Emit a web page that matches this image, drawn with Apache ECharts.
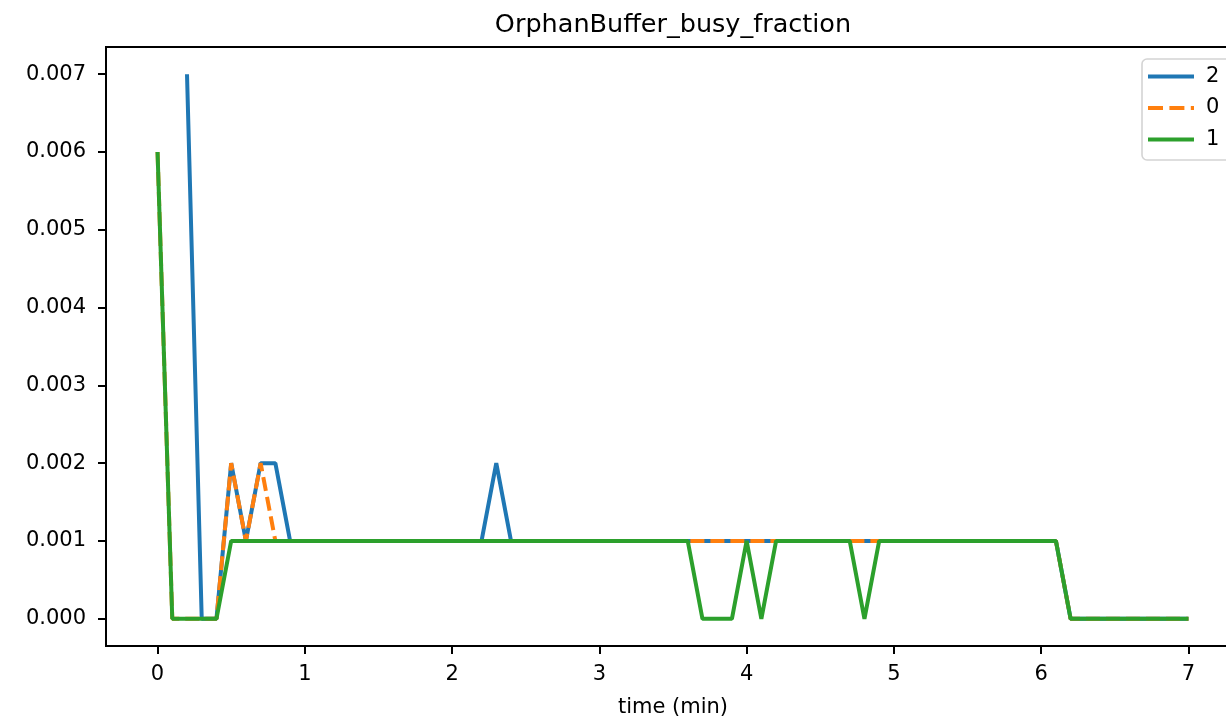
<!DOCTYPE html>
<html>
<head>
<meta charset="utf-8">
<script src="https://cdn.jsdelivr.net/npm/echarts@6/dist/echarts.min.js"></script>
<style>
html,body{margin:0;padding:0;background:#fff;}
#chart{width:1226px;height:719px;}
</style>
</head>
<body>
<div id="chart"></div>
<script>
var times = [
  0.0, 0.1, 0.2, 0.3, 0.4, 0.5, 0.6, 0.7, 0.8, 0.9,
  1.0, 1.1, 1.2, 1.3, 1.4, 1.5, 1.6, 1.7, 1.8, 1.9,
  2.0, 2.1, 2.2, 2.3, 2.4, 2.5, 2.6, 2.7, 2.8, 2.9,
  3.0, 3.1, 3.2, 3.3, 3.4, 3.5, 3.6, 3.7, 3.8, 3.9,
  4.0, 4.1, 4.2, 4.3, 4.4, 4.5, 4.6, 4.7, 4.8, 4.9,
  5.0, 5.1, 5.2, 5.3, 5.4, 5.5, 5.6, 5.7, 5.8, 5.9,
  6.0, 6.1, 6.2, 6.3, 6.4, 6.5, 6.6, 6.7, 6.8, 6.9,
  7.0
];
var series2 = [
  null, null, 0.007, 0, 0, 0.002, 0.001, 0.002, 0.002, 0.001,
  0.001, 0.001, 0.001, 0.001, 0.001, 0.001, 0.001, 0.001, 0.001, 0.001,
  0.001, 0.001, 0.001, 0.002, 0.001, 0.001, 0.001, 0.001, 0.001, 0.001,
  0.001, 0.001, 0.001, 0.001, 0.001, 0.001, 0.001, 0.001, 0.001, 0.001,
  0.001, 0.001, 0.001, 0.001, 0.001, 0.001, 0.001, 0.001, 0.001, 0.001,
  0.001, 0.001, 0.001, 0.001, 0.001, 0.001, 0.001, 0.001, 0.001, 0.001,
  0.001, 0.001, 0, 0, 0, 0, 0, 0, 0, 0,
  0
];
var series0 = [
  0.006, 0, 0, 0, 0, 0.002, 0.001, 0.002, 0.001, 0.001,
  0.001, 0.001, 0.001, 0.001, 0.001, 0.001, 0.001, 0.001, 0.001, 0.001,
  0.001, 0.001, 0.001, 0.001, 0.001, 0.001, 0.001, 0.001, 0.001, 0.001,
  0.001, 0.001, 0.001, 0.001, 0.001, 0.001, 0.001, 0.001, 0.001, 0.001,
  0.001, 0.001, 0.001, 0.001, 0.001, 0.001, 0.001, 0.001, 0.001, 0.001,
  0.001, 0.001, 0.001, 0.001, 0.001, 0.001, 0.001, 0.001, 0.001, 0.001,
  0.001, 0.001, 0, 0, 0, 0, 0, 0, 0, 0,
  0
];
var series1 = [
  0.006, 0, 0, 0, 0, 0.001, 0.001, 0.001, 0.001, 0.001,
  0.001, 0.001, 0.001, 0.001, 0.001, 0.001, 0.001, 0.001, 0.001, 0.001,
  0.001, 0.001, 0.001, 0.001, 0.001, 0.001, 0.001, 0.001, 0.001, 0.001,
  0.001, 0.001, 0.001, 0.001, 0.001, 0.001, 0.001, 0, 0, 0,
  0.001, 0, 0.001, 0.001, 0.001, 0.001, 0.001, 0.001, 0, 0.001,
  0.001, 0.001, 0.001, 0.001, 0.001, 0.001, 0.001, 0.001, 0.001, 0.001,
  0.001, 0.001, 0, 0, 0, 0, 0, 0, 0, 0,
  0
];
var xTicks = [0, 1, 2, 3, 4, 5, 6, 7];
var yTicks = [0, 0.001, 0.002, 0.003, 0.004, 0.005, 0.006, 0.007];
var seriesNames = ['2', '0', '1'];
var titleText = 'OrphanBuffer_busy_fraction';
var xLabel = 'time (min)';

function pairs(vals) {
  return times.map(function (t, i) { return [t, vals[i]]; });
}

var FONT = 'DejaVu Sans';
var LW = 4;
var solidIcon = 'path://M0,0H46V4H0Z';
var dashIcon = 'path://M0,0H15V4H0Z M21.4,0H36.4V4H21.4Z M42.8,0H46V4H42.8Z';

var chart = echarts.init(document.getElementById('chart'), null, {renderer: 'canvas'});
var option = {
  animation: false,
  backgroundColor: '#ffffff',
  title: {
    text: titleText,
    left: 668,
    textAlign: 'center',
    top: 7,
    textStyle: {fontFamily: FONT, fontSize: 25.5, fontWeight: 'normal', color: '#000'}
  },
  legend: {
    orient: 'vertical',
    left: 1142,
    top: 59,
    data: [
      {name: seriesNames[0], icon: solidIcon},
      {name: seriesNames[1], icon: dashIcon},
      {name: seriesNames[2], icon: solidIcon}
    ],
    itemWidth: 46,
    itemHeight: 4,
    itemGap: 10.5,
    padding: [7, 24, 10, 6],
    borderColor: '#d4d4d4',
    borderWidth: 1.6,
    borderRadius: 5,
    backgroundColor: 'rgba(255,255,255,0.8)',
    textStyle: {fontFamily: FONT, fontSize: 21, color: '#000', lineHeight: 21, padding: [0, 0, 0, 7]}
  },
  grid: {
    left: 106, top: 47, width: 1134, height: 599,
    outerBoundsMode: 'none',
    show: true, borderColor: '#000', borderWidth: 2, containLabel: false
  },
  xAxis: {
    type: 'value',
    min: -0.35, max: 7.35,
    name: xLabel,
    nameLocation: 'middle',
    nameGap: 51,
    nameTextStyle: {fontFamily: FONT, fontSize: 21, color: '#000'},
    axisLine: {show: true, onZero: false, lineStyle: {color: '#000', width: 2}},
    axisTick: {show: true, length: 8, customValues: xTicks, lineStyle: {color: '#000', width: 2}},
    axisLabel: {
      customValues: xTicks, margin: 18,
      fontFamily: FONT, fontSize: 21, color: '#000',
      formatter: function (v) { return String(Math.round(v)); }
    },
    splitLine: {show: false}
  },
  yAxis: {
    type: 'value',
    min: -0.00035, max: 0.00735,
    axisLine: {show: true, onZero: false, lineStyle: {color: '#000', width: 2}},
    axisTick: {show: true, length: 8, customValues: yTicks, lineStyle: {color: '#000', width: 2}},
    axisLabel: {
      customValues: yTicks, margin: 20,
      fontFamily: FONT, fontSize: 21, color: '#000',
      formatter: function (v) { return v.toFixed(3); }
    },
    splitLine: {show: false}
  },
  series: [
    {
      name: seriesNames[0], type: 'line', data: pairs(series2),
      symbol: 'none', connectNulls: false,
      itemStyle: {color: '#1f77b4'},
      lineStyle: {color: '#1f77b4', width: LW}
    },
    {
      name: seriesNames[1], type: 'line', data: pairs(series0),
      symbol: 'none',
      itemStyle: {color: '#ff7f0e'},
      lineStyle: {color: '#ff7f0e', width: LW, type: [14, 6]}
    },
    {
      name: seriesNames[2], type: 'line', data: pairs(series1),
      symbol: 'none',
      itemStyle: {color: '#2ca02c'},
      lineStyle: {color: '#2ca02c', width: LW}
    }
  ]
};
chart.setOption(option);
</script>
</body>
</html>
